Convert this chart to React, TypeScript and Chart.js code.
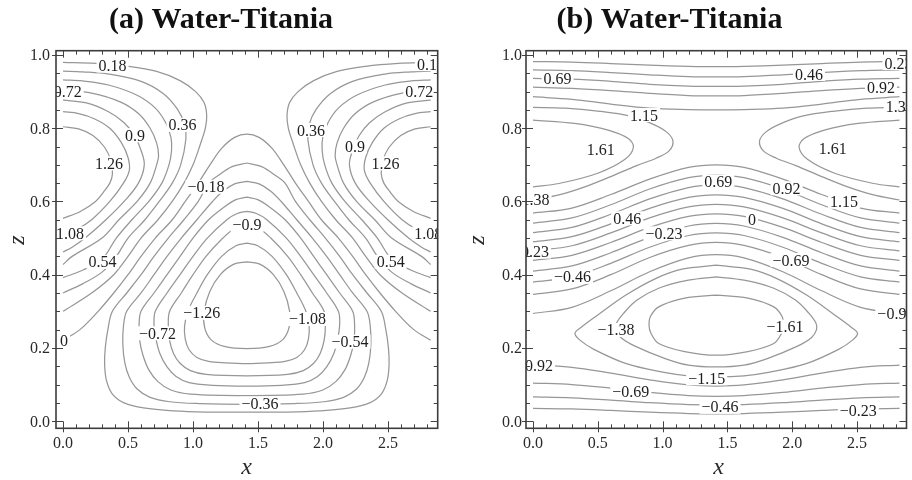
import React, { useEffect, useRef } from "react";
import { Chart, registerables } from "chart.js";

Chart.register(...registerables);

type Pt = [number, number];
type Label = [string, number, number];

// ---------- axes ----------
const xMajor = [0, 0.5, 1, 1.5, 2, 2.5];
const xMajorLabels = ["0.0", "0.5", "1.0", "1.5", "2.0", "2.5"];
const xMinor = [0.1, 0.2, 0.3, 0.4, 0.6, 0.7, 0.8, 0.9, 1.1, 1.2, 1.3, 1.4, 1.6, 1.7, 1.8, 1.9, 2.1, 2.2, 2.3, 2.4, 2.6, 2.7, 2.8];
const zMajor = [0, 0.2, 0.4, 0.6, 0.8, 1];
const zMajorLabels = ["0.0", "0.2", "0.4", "0.6", "0.8", "1.0"];
const zMinor = [0.05, 0.1, 0.15, 0.25, 0.3, 0.35, 0.45, 0.5, 0.55, 0.65, 0.7, 0.75, 0.85, 0.9, 0.95];

// ---------- panel (a): left lobe contours ----------
const aC0: Pt[] = [[0,0.804],[0.12,0.798],[0.23,0.78],[0.32,0.748],[0.37,0.71],[0.38,0.675],[0.36,0.65],[0.31,0.625],[0.25,0.6],[0.13,0.572],[0,0.554]];
const aC1: Pt[] = [[0,0.845],[0.12,0.84],[0.24,0.826],[0.36,0.8],[0.45,0.76],[0.5,0.72],[0.51,0.685],[0.465,0.65],[0.36,0.6],[0.22,0.55],[0.1,0.522],[0,0.508]];
const aC2: Pt[] = [[0,0.877],[0.18,0.869],[0.35,0.845],[0.47,0.815],[0.55,0.78],[0.6,0.74],[0.625,0.7],[0.58,0.65],[0.47,0.6],[0.33,0.55],[0.17,0.5],[0.07,0.475],[0,0.462]];
const aC3: Pt[] = [[0,0.904],[0.22,0.896],[0.44,0.872],[0.58,0.84],[0.67,0.8],[0.72,0.76],[0.735,0.725],[0.72,0.7],[0.67,0.65],[0.57,0.6],[0.43,0.55],[0.3,0.5],[0.07,0.45],[0,0.428]];
const aC4: Pt[] = [[0,0.932],[0.15,0.929],[0.35,0.918],[0.57,0.89],[0.71,0.855],[0.79,0.815],[0.83,0.775],[0.835,0.74],[0.815,0.7],[0.76,0.65],[0.66,0.6],[0.53,0.55],[0.41,0.5],[0.3,0.442],[0.15,0.412],[0,0.392]];
const aC5: Pt[] = [[0,0.956],[0.15,0.954],[0.35,0.948],[0.6,0.928],[0.77,0.895],[0.88,0.852],[0.935,0.81],[0.945,0.77],[0.905,0.7],[0.84,0.65],[0.74,0.6],[0.63,0.55],[0.5,0.5],[0.41,0.45],[0.3,0.407],[0.15,0.375],[0,0.35]];
const aC6: Pt[] = [[0,0.98],[0.25,0.977],[0.5,0.969],[0.72,0.955],[0.9,0.93],[1.02,0.9],[1.085,0.87],[1.105,0.835],[1.095,0.8],[1.055,0.755],[1.0,0.7],[0.93,0.65],[0.84,0.6],[0.73,0.55],[0.6,0.5],[0.5,0.45],[0.39,0.4],[0.22,0.35],[0,0.3]];
// right lobe contours
const aC0R: Pt[] = [[2.828,0.804],[2.708,0.798],[2.598,0.78],[2.508,0.748],[2.458,0.71],[2.448,0.675],[2.468,0.65],[2.518,0.625],[2.578,0.6],[2.698,0.572],[2.828,0.554]];
const aC1R: Pt[] = [[2.828,0.845],[2.708,0.84],[2.588,0.826],[2.468,0.8],[2.378,0.76],[2.328,0.72],[2.318,0.685],[2.363,0.65],[2.468,0.6],[2.608,0.55],[2.728,0.522],[2.828,0.508]];
const aC2R: Pt[] = [[2.828,0.877],[2.648,0.869],[2.478,0.845],[2.358,0.815],[2.278,0.78],[2.228,0.74],[2.203,0.7],[2.248,0.65],[2.358,0.6],[2.498,0.55],[2.658,0.5],[2.758,0.475],[2.828,0.462]];
const aC3R: Pt[] = [[2.828,0.904],[2.608,0.896],[2.388,0.872],[2.248,0.84],[2.158,0.8],[2.108,0.76],[2.093,0.725],[2.108,0.7],[2.158,0.65],[2.258,0.6],[2.398,0.55],[2.528,0.5],[2.758,0.45],[2.828,0.428]];
const aC4R: Pt[] = [[2.828,0.932],[2.678,0.929],[2.478,0.918],[2.258,0.89],[2.118,0.855],[2.038,0.815],[1.998,0.775],[1.993,0.74],[2.013,0.7],[2.068,0.65],[2.168,0.6],[2.298,0.55],[2.418,0.5],[2.528,0.442],[2.678,0.412],[2.828,0.392]];
const aC5R: Pt[] = [[2.828,0.956],[2.678,0.954],[2.478,0.948],[2.228,0.928],[2.058,0.895],[1.948,0.852],[1.893,0.81],[1.883,0.77],[1.923,0.7],[1.988,0.65],[2.088,0.6],[2.198,0.55],[2.328,0.5],[2.418,0.45],[2.528,0.407],[2.678,0.375],[2.828,0.35]];
const aC6R: Pt[] = [[2.828,0.98],[2.578,0.977],[2.328,0.969],[2.108,0.955],[1.928,0.93],[1.808,0.9],[1.743,0.87],[1.723,0.835],[1.733,0.8],[1.773,0.755],[1.828,0.7],[1.898,0.65],[1.988,0.6],[2.098,0.55],[2.228,0.5],[2.328,0.45],[2.438,0.4],[2.608,0.35],[2.828,0.3]];
// zero contour (arch)
const aZero: Pt[] = [[0,0.221],[0.13,0.25],[0.27,0.3],[0.39,0.35],[0.5,0.4],[0.6,0.45],[0.71,0.5],[0.84,0.55],[0.94,0.6],[1.04,0.65],[1.13,0.7],[1.22,0.745],[1.32,0.775],[1.414,0.784],[1.508,0.775],[1.608,0.745],[1.698,0.7],[1.788,0.65],[1.888,0.6],[1.988,0.55],[2.118,0.5],[2.228,0.45],[2.328,0.4],[2.438,0.35],[2.558,0.3],[2.698,0.25],[2.828,0.221]];
// central cell (closed)
const aT0: Pt[] = [[1.414,0.705],[1.3,0.695],[1.19,0.67],[1.12,0.65],[1.04,0.6],[0.93,0.55],[0.81,0.5],[0.7,0.45],[0.6,0.4],[0.49,0.35],[0.38,0.3],[0.345,0.25],[0.325,0.2],[0.32,0.155],[0.335,0.11],[0.38,0.074],[0.47,0.05],[0.62,0.036],[0.85,0.028],[1.1,0.025],[1.414,0.025],[1.728,0.025],[1.978,0.028],[2.208,0.036],[2.358,0.05],[2.448,0.074],[2.493,0.11],[2.508,0.155],[2.503,0.2],[2.483,0.25],[2.448,0.3],[2.338,0.35],[2.228,0.4],[2.128,0.45],[2.018,0.5],[1.898,0.55],[1.788,0.6],[1.708,0.65],[1.638,0.67],[1.528,0.695],[1.414,0.705]];
const aT1: Pt[] = [[1.414,0.655],[1.32,0.648],[1.23,0.628],[1.15,0.6],[1.03,0.55],[0.91,0.5],[0.8,0.45],[0.7,0.4],[0.6,0.35],[0.49,0.3],[0.465,0.26],[0.46,0.21],[0.475,0.16],[0.51,0.12],[0.57,0.088],[0.67,0.065],[0.82,0.053],[1.05,0.048],[1.414,0.046],[1.778,0.048],[2.008,0.053],[2.158,0.065],[2.258,0.088],[2.318,0.12],[2.353,0.16],[2.368,0.21],[2.363,0.26],[2.338,0.3],[2.228,0.35],[2.128,0.4],[2.028,0.45],[1.918,0.5],[1.798,0.55],[1.678,0.6],[1.598,0.628],[1.508,0.648],[1.414,0.655]];
const aT2: Pt[] = [[1.414,0.612],[1.33,0.605],[1.24,0.585],[1.12,0.55],[1.0,0.5],[0.9,0.45],[0.8,0.4],[0.7,0.35],[0.6,0.3],[0.585,0.26],[0.59,0.22],[0.615,0.18],[0.66,0.14],[0.73,0.108],[0.83,0.085],[0.98,0.074],[1.414,0.07],[1.848,0.074],[1.998,0.085],[2.098,0.108],[2.168,0.14],[2.213,0.18],[2.238,0.22],[2.243,0.26],[2.228,0.3],[2.128,0.35],[2.028,0.4],[1.928,0.45],[1.828,0.5],[1.708,0.55],[1.588,0.585],[1.498,0.605],[1.414,0.612]];
const aT3: Pt[] = [[1.414,0.573],[1.34,0.567],[1.26,0.55],[1.11,0.5],[1.0,0.45],[0.9,0.4],[0.8,0.35],[0.71,0.3],[0.7,0.265],[0.715,0.225],[0.745,0.185],[0.8,0.148],[0.87,0.122],[0.97,0.105],[1.15,0.098],[1.414,0.096],[1.678,0.098],[1.858,0.105],[1.958,0.122],[2.028,0.148],[2.083,0.185],[2.113,0.225],[2.128,0.265],[2.118,0.3],[2.028,0.35],[1.928,0.4],[1.828,0.45],[1.718,0.5],[1.568,0.55],[1.488,0.567],[1.414,0.573]];
const aT4: Pt[] = [[1.414,0.536],[1.33,0.529],[1.23,0.5],[1.1,0.45],[1.0,0.4],[0.91,0.35],[0.82,0.3],[0.81,0.26],[0.82,0.22],[0.85,0.185],[0.9,0.158],[0.98,0.138],[1.1,0.128],[1.414,0.124],[1.728,0.128],[1.848,0.138],[1.928,0.158],[1.978,0.185],[2.008,0.22],[2.018,0.26],[2.008,0.3],[1.918,0.35],[1.828,0.4],[1.728,0.45],[1.598,0.5],[1.498,0.529],[1.414,0.536]];
const aT5: Pt[] = [[1.414,0.486],[1.33,0.479],[1.22,0.45],[1.11,0.4],[1.03,0.35],[0.96,0.3],[0.935,0.26],[0.94,0.225],[0.97,0.195],[1.03,0.174],[1.12,0.163],[1.25,0.159],[1.414,0.157],[1.578,0.159],[1.708,0.163],[1.798,0.174],[1.858,0.195],[1.888,0.225],[1.893,0.26],[1.868,0.3],[1.798,0.35],[1.718,0.4],[1.608,0.45],[1.498,0.479],[1.414,0.486]];
const aT6: Pt[] = [[1.414,0.435],[1.31,0.428],[1.21,0.4],[1.13,0.355],[1.085,0.3],[1.09,0.255],[1.14,0.222],[1.24,0.204],[1.414,0.198],[1.588,0.204],[1.688,0.222],[1.738,0.255],[1.743,0.3],[1.698,0.355],[1.618,0.4],[1.518,0.428],[1.414,0.435]];

const contoursA: Pt[][] = [aC0, aC1, aC2, aC3, aC4, aC5, aC6, aC0R, aC1R, aC2R, aC3R, aC4R, aC5R, aC6R, aZero, aT0, aT1, aT2, aT3, aT4, aT5, aT6];

const labelsA: Label[] = [
  ["0.18", 0.381, 0.971], ["0.18", 2.83, 0.975], ["0.72", 0.036, 0.9], ["0.72", 2.74, 0.9],
  ["0.36", 0.919, 0.809], ["0.36", 1.907, 0.795], ["0.9", 0.554, 0.781], ["0.9", 2.246, 0.75],
  ["1.26", 0.354, 0.704], ["1.26", 2.48, 0.704], ["\u22120.18", 1.1, 0.64], ["\u22120.9", 1.416, 0.536],
  ["1.08", 0.054, 0.513], ["1.08", 2.81, 0.513], ["0.54", 0.304, 0.435], ["0.54", 2.52, 0.435],
  ["0", 0.008, 0.221], ["\u22121.26", 1.067, 0.296], ["\u22121.08", 1.88, 0.279], ["\u22120.72", 0.727, 0.24],
  ["\u22120.54", 2.208, 0.217], ["\u22120.36", 1.515, 0.048],
];

// ---------- panel (b) ----------
const bX = [0, 0.3, 0.6, 0.9, 1.2, 1.414, 1.628, 1.928, 2.228, 2.528, 2.828];
const bTop1 = [0.982, 0.9805, 0.9766, 0.972, 0.969, 0.968, 0.969, 0.972, 0.9766, 0.9805, 0.982];
const bTop2 = [0.959, 0.957, 0.952, 0.946, 0.941, 0.94, 0.941, 0.946, 0.952, 0.957, 0.959];
const bTop3 = [0.936, 0.934, 0.928, 0.92, 0.915, 0.914, 0.915, 0.92, 0.928, 0.934, 0.936];
const bTop4 = [0.912, 0.909, 0.903, 0.895, 0.889, 0.888, 0.889, 0.895, 0.903, 0.909, 0.912];
const bTop5 = [0.886, 0.879, 0.866, 0.855, 0.851, 0.85, 0.851, 0.855, 0.866, 0.879, 0.886];
const bMid1 = [0.568, 0.582, 0.619, 0.661, 0.693, 0.7, 0.693, 0.661, 0.619, 0.582, 0.568];
const bMid2 = [0.541, 0.555, 0.591, 0.634, 0.665, 0.672, 0.665, 0.634, 0.591, 0.555, 0.541];
const bMid3 = [0.515, 0.529, 0.565, 0.607, 0.638, 0.645, 0.638, 0.607, 0.565, 0.529, 0.515];
const bMid4 = [0.49, 0.504, 0.539, 0.581, 0.611, 0.618, 0.611, 0.581, 0.539, 0.504, 0.49];
const bMid5 = [0.465, 0.479, 0.514, 0.555, 0.585, 0.592, 0.585, 0.555, 0.514, 0.479, 0.465];
const bMid6 = [0.439, 0.453, 0.488, 0.529, 0.559, 0.566, 0.559, 0.529, 0.488, 0.453, 0.439];
const bMid7 = [0.41, 0.424, 0.46, 0.502, 0.533, 0.54, 0.533, 0.502, 0.46, 0.424, 0.41];
const bMid8 = [0.38, 0.394, 0.431, 0.475, 0.507, 0.514, 0.507, 0.475, 0.431, 0.394, 0.38];
const bMid9 = [0.346, 0.361, 0.4, 0.447, 0.48, 0.488, 0.48, 0.447, 0.4, 0.361, 0.346];
const bMid10 = [0.294, 0.311, 0.356, 0.408, 0.446, 0.455, 0.446, 0.408, 0.356, 0.311, 0.294];
const bBot1 = [0.153, 0.147, 0.131, 0.113, 0.099, 0.096, 0.099, 0.113, 0.131, 0.147, 0.153];
const bBot2 = [0.104, 0.1, 0.09, 0.0785, 0.07, 0.068, 0.07, 0.0785, 0.09, 0.1, 0.104];
const bBot3 = [0.066, 0.0636, 0.0576, 0.0504, 0.0452, 0.044, 0.0452, 0.0504, 0.0576, 0.0636, 0.066];
const bBot4 = [0.035, 0.0334, 0.0293, 0.0244, 0.0208, 0.02, 0.0208, 0.0244, 0.0293, 0.0334, 0.035];

const bC1: Pt[] = [[0,0.857],[0.25,0.855],[0.5,0.847],[0.75,0.833],[0.92,0.812],[1.03,0.79],[1.08,0.765],[1.05,0.738],[0.95,0.718],[0.8,0.698],[0.6,0.668],[0.4,0.64],[0.2,0.618],[0,0.604]];
const bC2: Pt[] = [[0,0.822],[0.32,0.813],[0.58,0.795],[0.735,0.772],[0.775,0.748],[0.71,0.715],[0.5,0.677],[0.2,0.649],[0,0.64]];
const bC1R: Pt[] = [[2.828,0.857],[2.578,0.855],[2.328,0.847],[2.078,0.833],[1.908,0.812],[1.798,0.79],[1.748,0.765],[1.778,0.738],[1.878,0.718],[2.028,0.698],[2.228,0.668],[2.428,0.64],[2.628,0.618],[2.828,0.604]];
const bC2R: Pt[] = [[2.828,0.822],[2.508,0.813],[2.248,0.795],[2.093,0.772],[2.053,0.748],[2.118,0.715],[2.328,0.677],[2.628,0.649],[2.828,0.64]];
const bOuter: Pt[] = [[1.414,0.426],[1.15,0.415],[0.95,0.39],[0.72,0.345],[0.5,0.29],[0.37,0.256],[0.324,0.24],[0.36,0.222],[0.47,0.196],[0.72,0.157],[1.0,0.134],[1.2,0.124],[1.414,0.121],[1.628,0.124],[1.828,0.134],[2.108,0.157],[2.358,0.196],[2.468,0.222],[2.504,0.24],[2.458,0.256],[2.328,0.29],[2.108,0.345],[1.878,0.39],[1.678,0.415],[1.414,0.426]];
const bMiddle: Pt[] = [[1.414,0.394],[1.2,0.385],[0.97,0.363],[0.8,0.33],[0.7,0.295],[0.645,0.268],[0.64,0.25],[0.68,0.228],[0.787,0.205],[1.02,0.171],[1.2,0.153],[1.414,0.148],[1.628,0.153],[1.808,0.171],[2.041,0.205],[2.148,0.228],[2.188,0.25],[2.183,0.268],[2.128,0.295],[2.028,0.33],[1.858,0.363],[1.628,0.385],[1.414,0.394]];
const bInner: Pt[] = [[1.414,0.344],[1.17,0.336],[0.97,0.312],[0.905,0.285],[0.895,0.262],[0.91,0.24],[0.97,0.212],[1.17,0.19],[1.414,0.18],[1.658,0.19],[1.858,0.212],[1.918,0.24],[1.933,0.262],[1.923,0.285],[1.858,0.312],[1.658,0.336],[1.414,0.344]];

const bSpanning = [bTop1, bTop2, bTop3, bTop4, bTop5, bMid1, bMid2, bMid3, bMid4, bMid5, bMid6, bMid7, bMid8, bMid9, bMid10, bBot1, bBot2, bBot3, bBot4];
const contoursB: Pt[][] = [
  ...bSpanning.map((zs) => bX.map((x, i) => [x, zs[i]] as Pt)),
  bC1, bC2, bC1R, bC2R, bOuter, bMiddle, bInner,
];

const labelsB: Label[] = [
  ["0.69", 0.19, 0.936], ["0.46", 2.13, 0.948], ["0.23", 2.82, 0.978], ["0.92", 2.685, 0.912],
  ["1.38", 2.83, 0.859], ["1.15", 0.857, 0.836], ["1.61", 0.523, 0.742], ["1.61", 2.312, 0.745],
  ["1.38", 0.02, 0.604], ["0.69", 1.43, 0.654], ["0.92", 1.957, 0.636], ["1.15", 2.4, 0.599],
  ["0.46", 0.727, 0.554], ["\u22120.23", 1.01, 0.513], ["0", 1.69, 0.552], ["0.23", 0.015, 0.463],
  ["\u22120.46", 0.305, 0.394], ["\u22120.69", 1.99, 0.44], ["\u22120.92", 2.8, 0.294], ["\u22121.38", 0.64, 0.249],
  ["\u22121.61", 1.944, 0.258], ["\u22120.92", 0.012, 0.153], ["\u22121.15", 1.34, 0.117], ["\u22120.69", 0.755, 0.08],
  ["\u22120.46", 1.443, 0.039], ["\u22120.23", 2.51, 0.03],
];

// ---------- drawing ----------
const SERIF = '"Liberation Serif", "Times New Roman", "DejaVu Serif", serif';

const panelPlugin = {
  id: "panelDeco",
  afterDatasetsDraw(chart: any, _args: any, o: any) {
    const { ctx, chartArea: ca } = chart;
    const xs = chart.scales.x;
    const ys = chart.scales.y;
    ctx.save();
    ctx.beginPath();
    ctx.rect(ca.left, ca.top, ca.right - ca.left, ca.bottom - ca.top);
    ctx.clip();
    ctx.font = `16px ${SERIF}`;
    ctx.textAlign = "center";
    ctx.textBaseline = "alphabetic";
    for (const [t, x, z] of o.labels as Label[]) {
      const px = xs.getPixelForValue(x);
      const py = ys.getPixelForValue(z);
      const w = ctx.measureText(t).width;
      ctx.fillStyle = "#ffffff";
      ctx.fillRect(px - w / 2 - 2, py - 7, w + 4, 14);
      ctx.fillStyle = "#1e1e1e";
      ctx.fillText(t, px, py + 5.5);
    }
    ctx.restore();
  },
  afterDraw(chart: any, _args: any, o: any) {
    const { ctx, chartArea: ca } = chart;
    const xs = chart.scales.x;
    const ys = chart.scales.y;
    ctx.save();
    // ticks
    ctx.strokeStyle = "#444";
    ctx.lineWidth = 1;
    ctx.beginPath();
    for (const v of xMajor) {
      const px = Math.round(xs.getPixelForValue(v)) + 0.5;
      ctx.moveTo(px, ca.bottom + 4); ctx.lineTo(px, ca.bottom - 7);
      ctx.moveTo(px, ca.top); ctx.lineTo(px, ca.top + 7);
    }
    for (const v of xMinor) {
      const px = Math.round(xs.getPixelForValue(v)) + 0.5;
      ctx.moveTo(px, ca.bottom); ctx.lineTo(px, ca.bottom - 4);
      ctx.moveTo(px, ca.top); ctx.lineTo(px, ca.top + 4);
    }
    for (const v of zMajor) {
      const py = Math.round(ys.getPixelForValue(v)) + 0.5;
      ctx.moveTo(ca.left - 4, py); ctx.lineTo(ca.left + 7, py);
      ctx.moveTo(ca.right, py); ctx.lineTo(ca.right - 7, py);
    }
    for (const v of zMinor) {
      const py = Math.round(ys.getPixelForValue(v)) + 0.5;
      ctx.moveTo(ca.left, py); ctx.lineTo(ca.left + 4, py);
      ctx.moveTo(ca.right, py); ctx.lineTo(ca.right - 4, py);
    }
    ctx.stroke();
    // frame
    ctx.strokeStyle = "#3c3c3c";
    ctx.lineWidth = 1.6;
    ctx.strokeRect(ca.left, ca.top, ca.right - ca.left, ca.bottom - ca.top);
    // tick labels
    ctx.fillStyle = "#2a2a2a";
    ctx.font = `16px ${SERIF}`;
    ctx.textAlign = "center";
    ctx.textBaseline = "alphabetic";
    xMajor.forEach((v, i) => {
      ctx.fillText(xMajorLabels[i], xs.getPixelForValue(v), ca.bottom + 20);
    });
    ctx.textAlign = "right";
    zMajor.forEach((v, i) => {
      ctx.fillText(zMajorLabels[i], ca.left - o.yGap, ys.getPixelForValue(v) + 5.5);
    });
    // title
    ctx.fillStyle = "#111";
    ctx.font = `bold 30px ${SERIF}`;
    ctx.textAlign = "center";
    ctx.fillText(o.title, o.titleX, 27.5);
    // axis labels
    ctx.fillStyle = "#2a2a2a";
    ctx.font = `italic 24px ${SERIF}`;
    ctx.fillText("x", o.xLabelX, 474);
    ctx.save();
    ctx.translate(o.zLabelX, 240);
    ctx.rotate(-Math.PI / 2);
    ctx.fillText("z", 0, 0);
    ctx.restore();
    ctx.restore();
  },
};

function makeConfig(contours: Pt[][], deco: any, padding: any): any {
  return {
    type: "scatter",
    data: {
      datasets: contours.map((c) => ({
        data: c.map(([x, z]) => ({ x, y: z })),
        showLine: true,
        pointRadius: 0,
        borderColor: "#979797",
        borderWidth: 1.25,
        tension: 0.35,
        fill: false,
      })),
    },
    options: {
      animation: false,
      responsive: false,
      devicePixelRatio: 1,
      events: [],
      layout: { padding },
      scales: {
        x: { type: "linear", min: -0.054, max: 2.882, display: false },
        y: { type: "linear", min: -0.0195, max: 1.0117, display: false },
      },
      plugins: {
        legend: { display: false },
        tooltip: { enabled: false },
        panelDeco: deco,
      },
    },
    plugins: [panelPlugin],
  };
}

function Panel({ left, config }: { left: number; config: any }) {
  const ref = useRef<HTMLCanvasElement | null>(null);
  useEffect(() => {
    if (!ref.current) return;
    const chart = new Chart(ref.current, config);
    return () => chart.destroy();
  }, []);
  return (
    <canvas
      ref={ref}
      width={456}
      height={480}
      style={{ position: "absolute", left, top: 0, width: 456, height: 480, display: "block" }}
    />
  );
}

export default function App() {
  const cfgA = makeConfig(
    contoursA,
    { labels: labelsA, title: "(a) Water-Titania", titleX: 221, xLabelX: 246.5, zLabelX: 24, yGap: 6 },
    { left: 56, right: 18.3, top: 50.7, bottom: 51.7 }
  );
  const cfgB = makeConfig(
    contoursB,
    { labels: labelsB, title: "(b) Water-Titania", titleX: 213.5, xLabelX: 262.5, zLabelX: 28, yGap: 4 },
    { left: 70, right: 5.5, top: 50.7, bottom: 51.7 }
  );
  return (
    <div style={{ position: "absolute", left: 0, top: 0, width: 912, height: 480, background: "#ffffff", overflow: "hidden" }}>
      <Panel left={0} config={cfgA} />
      <Panel left={456} config={cfgB} />
    </div>
  );
}
